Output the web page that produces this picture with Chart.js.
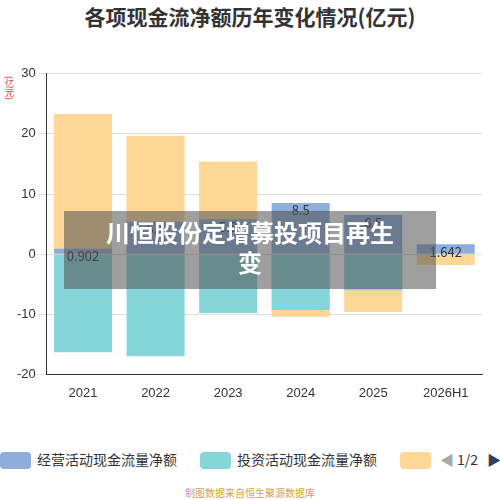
<!DOCTYPE html><html><head><meta charset="utf-8"><script src="https://cdn.jsdelivr.net/npm/chart.js@4"></script>
<style>body{margin:0;width:500px;height:500px;font-family:"Noto Sans CJK SC";background:#fff;position:relative;overflow:hidden}
#t{position:absolute;top:1px;width:500px;text-align:center;font-size:21px;font-weight:bold;color:#333}
#c{position:absolute;left:0;top:63px;width:500px;height:341px}
#lg{position:absolute;top:449px;left:0;width:500px;font-size:14px;color:#333}
.s{position:absolute;top:3px;width:31px;height:17px;border-radius:4px}
.l{position:absolute;top:0}
#src{position:absolute;top:485px;width:500px;text-align:center;font-size:10px;color:#d4a24a}
#yt{position:absolute;left:4px;top:76px;font-size:9px;line-height:10px;color:#e33;writing-mode:vertical-rl}
#ov{position:absolute;left:64px;top:211px;width:372px;height:78px;background:rgba(80,80,80,0.55);color:#fff;font-size:24px;font-weight:bold;text-align:center;line-height:30px;padding-top:6px;box-sizing:border-box}
</style></head><body>
<div id="t">各项现金流净额历年变化情况(亿元)</div>
<div id="c"><canvas id="cv"></canvas></div>
<div id="yt">(亿元)</div>
<div id="lg"><div class="s" style="left:0;background:#8eaedb"></div><div class="l" style="left:37px">经营活动现金流量净额</div>
<div class="s" style="left:200px;background:#86d5d8"></div><div class="l" style="left:237px">投资活动现金流量净额</div>
<div class="s" style="left:400px;background:#fed796"></div>
<div class="l" style="left:440px;color:#aaa">◀</div><div class="l" style="left:457px">1/2</div><div class="l" style="left:487px;color:#2c4358">▶</div></div>
<div id="src">制图数据来自恒生聚源数据库</div>
<div id="ov">川恒股份定增募投项目再生<br>变</div>
<script>
const categories=["2021","2022","2023","2024","2025","2026H1"];
const operating=[0.902,5.4,5.8,8.5,6.5,1.642];
const investing=[-16.3,-17.0,-9.8,-9.3,-6.0,-0.1];
const financing=[23.3,19.7,15.4,-10.4,-9.6,-1.8];
const lbl={id:'lbl',afterDatasetsDraw(ch){const m=ch.getDatasetMeta(0),x=ch.ctx;x.save();x.font='13px "Noto Sans CJK SC"';x.fillStyle='#333';x.textAlign='center';x.textBaseline='top';
m.data.forEach((b,i)=>x.fillText(String(operating[i]),b.x,b.y+1));x.restore();}};
new Chart(document.getElementById('cv'),{type:'bar',data:{labels:categories,datasets:[
{label:'经营活动现金流量净额',data:operating,backgroundColor:'#8eaedb',grouped:false,order:1},
{label:'投资活动现金流量净额',data:investing,backgroundColor:'#86d5d8',grouped:false,order:2},
{label:'筹资活动现金流量净额',data:financing,backgroundColor:'#fed796',grouped:false,order:3}]},
options:{responsive:true,maintainAspectRatio:false,animation:false,barPercentage:0.8,categoryPercentage:1,
layout:{padding:{left:14,right:18,top:7}},
plugins:{legend:{display:false},tooltip:{enabled:false}},
scales:{x:{grid:{display:false},border:{color:'#333'},ticks:{color:'#333',font:{size:13}}},
y:{min:-20,max:30,ticks:{stepSize:10,color:'#333',font:{size:13}},grid:{color:'#ddd'},border:{display:true,color:'#333'}}}},plugins:[lbl]});
</script></body></html>
